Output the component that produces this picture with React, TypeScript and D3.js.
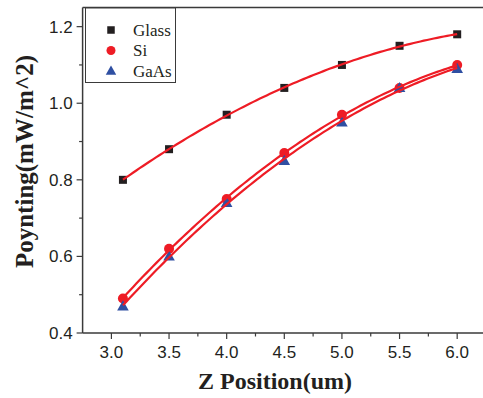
import React from "react";
import * as d3 from "d3";

const zPos = [3.1, 3.5, 4.0, 4.5, 5.0, 5.5, 6.0];
const glass = [0.8, 0.88, 0.97, 1.04, 1.1, 1.15, 1.18];
const si = [0.49, 0.62, 0.75, 0.87, 0.97, 1.04, 1.1];
const gaas = [0.47, 0.6, 0.74, 0.85, 0.95, 1.04, 1.09];
const xTicks = [3.0, 3.5, 4.0, 4.5, 5.0, 5.5, 6.0];
const yTicks = [0.4, 0.6, 0.8, 1.0, 1.2];
const seriesNames = ["Glass", "Si", "GaAs"];

function polyfit2(xs: number[], ys: number[]) {
  let s0 = 0, s1 = 0, s2 = 0, s3 = 0, s4 = 0, t0 = 0, t1 = 0, t2 = 0;
  xs.forEach((x, i) => {
    const y = ys[i];
    s0 += 1; s1 += x; s2 += x * x; s3 += x ** 3; s4 += x ** 4;
    t0 += y; t1 += x * y; t2 += x * x * y;
  });
  const M = [
    [s0, s1, s2, t0],
    [s1, s2, s3, t1],
    [s2, s3, s4, t2],
  ];
  for (let i = 0; i < 3; i++) {
    for (let k = i + 1; k < 3; k++) {
      const f = M[k][i] / M[i][i];
      for (let j = i; j < 4; j++) M[k][j] -= f * M[i][j];
    }
  }
  const c = [0, 0, 0];
  for (let i = 2; i >= 0; i--) {
    let s = M[i][3];
    for (let j = i + 1; j < 3; j++) s -= M[i][j] * c[j];
    c[i] = s / M[i][i];
  }
  return (x: number) => c[0] + c[1] * x + c[2] * x * x;
}

export default function App() {
  const W = 483, H = 398;
  const left = 82.6, top = 7.5, bottom = 333, right = 486;
  const x = d3.scaleLinear().domain([2.75, 6.25]).range([left, right]);
  const y = d3.scaleLinear().domain([0.4, 1.25]).range([bottom, top]);
  const red = "#ee1c25";
  const black = "#231f20";
  const blue = "#2f4fa2";
  const axisColor = "#3a3a3a";

  const data = [glass, si, gaas];
  const fits = data.map((ys) => polyfit2(zPos, ys));
  const fitPaths = fits.map((f) => {
    const pts = d3.range(0, 101).map((i) => 3.1 + (i * (6.0 - 3.1)) / 100);
    return d3.line<number>().x((v) => x(v)).y((v) => y(f(v)))(pts);
  });

  const minorX = [3.25, 3.75, 4.25, 4.75, 5.25, 5.75];
  const minorY = [0.5, 0.7, 0.9, 1.1];

  const serif = "'Liberation Serif', 'Times New Roman', serif";
  const sans = "'Liberation Sans', Arial, sans-serif";

  const square = (cx: number, cy: number, s: number, key: string) => (
    <rect key={key} x={cx - s / 2} y={cy - s / 2} width={s} height={s} fill={black} />
  );
  const circle = (cx: number, cy: number, r: number, key: string) => (
    <circle key={key} cx={cx} cy={cy} r={r} fill={red} />
  );
  const tri = (cx: number, cy: number, s: number, key: string) => (
    <path
      key={key}
      d={`M${cx},${cy - s * 0.6}L${cx + s * 0.58},${cy + s * 0.42}L${cx - s * 0.58},${cy + s * 0.42}Z`}
      fill={blue}
    />
  );

  return (
    <svg width={W} height={H} style={{ position: "absolute", left: 0, top: 0, background: "#fff" }}>
      <line x1={left} x2={W} y1={top} y2={top} stroke={axisColor} strokeWidth={1.5} />
      <line x1={left} x2={left} y1={top} y2={bottom} stroke={axisColor} strokeWidth={1.5} />
      <line x1={left} x2={W} y1={bottom} y2={bottom} stroke={axisColor} strokeWidth={1.5} />

      {xTicks.map((t) => (
        <g key={"xt" + t}>
          <line x1={x(t)} x2={x(t)} y1={bottom} y2={bottom + 6} stroke={axisColor} strokeWidth={1.2} />
          <text x={x(t)} y={bottom + 25} textAnchor="middle" fontFamily={sans} fontSize={17} fill="#231f20">
            {t.toFixed(1)}
          </text>
        </g>
      ))}
      {minorX.map((t) => (
        <line key={"xm" + t} x1={x(t)} x2={x(t)} y1={bottom} y2={bottom + 3.5} stroke={axisColor} strokeWidth={1.2} />
      ))}

      {yTicks.map((t) => (
        <g key={"yt" + t}>
          <line x1={left - 6} x2={left} y1={y(t)} y2={y(t)} stroke={axisColor} strokeWidth={1.2} />
          <text x={left - 10} y={y(t) + 6} textAnchor="end" fontFamily={sans} fontSize={17} fill="#231f20">
            {t.toFixed(1)}
          </text>
        </g>
      ))}
      {minorY.map((t) => (
        <line key={"ym" + t} x1={left - 3.5} x2={left} y1={y(t)} y2={y(t)} stroke={axisColor} strokeWidth={1.2} />
      ))}

      {zPos.map((v, i) => square(x(v), y(glass[i]), 8, "g" + i))}
      {zPos.map((v, i) => circle(x(v), y(si[i]), 5, "s" + i))}
      {zPos.map((v, i) => tri(x(v), y(gaas[i]), 10, "a" + i))}

      {fitPaths.map((p, i) => (
        <path key={"f" + i} d={p || ""} fill="none" stroke={red} strokeWidth={2.2} />
      ))}

      <rect x={85.5} y={8} width={90} height={74.5} fill="#fff" stroke={axisColor} strokeWidth={1} />
      {square(111, 30, 7.5, "lg")}
      {circle(111, 50.5, 4.5, "ls")}
      {tri(111, 71, 9, "la")}
      {seriesNames.map((n, i) => (
        <text key={n} x={133} y={35.5 + i * 20.5} fontFamily={serif} fontSize={17} fill="#231f20">
          {n}
        </text>
      ))}

      <text x={275} y={389} textAnchor="middle" fontFamily={serif} fontWeight="bold" fontSize={24} fill="#231f20">
        Z Position(um)
      </text>
      <text
        transform={`translate(33,161.5) rotate(-90)`}
        textAnchor="middle"
        fontFamily={serif}
        fontWeight="bold"
        fontSize={25}
        fill="#231f20"
      >
        Poynting(mW/m^2)
      </text>
    </svg>
  );
}
